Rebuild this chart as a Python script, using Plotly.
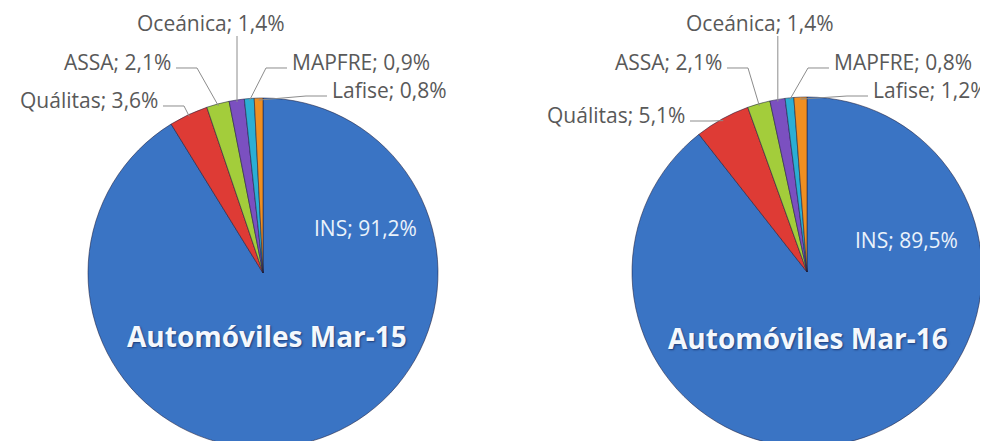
import math
import plotly.graph_objects as go

# ---- data ----
categories = ["INS", "Quálitas", "ASSA", "Oceánica", "MAPFRE", "Lafise"]
values_mar15 = [91.2, 3.6, 2.1, 1.4, 0.9, 0.8]
values_mar16 = [89.5, 5.1, 2.1, 1.4, 0.8, 1.2]
titles = ["Automóviles Mar-15", "Automóviles Mar-16"]

# ---- style / layout (target positions in page pixels) ----
W, H = 988, 441
OFF = 8  # default page body margin
colors = ["#3A74C4", "#DE3B35", "#A3CD3B", "#7B50C0", "#2BAED4", "#EF8F22"]
R = 175
centers = [(263, 273), (807, 272)]
# (side, edge x, center y) per small slice; side: 'L' label left of pie, 'R' right, 'T' top
label_pos = [
    {1: ("L", 160, 100), 2: ("L", 173, 62), 3: ("T", 211, 23), 4: ("R", 290, 62), 5: ("R", 330, 90)},
    {1: ("L", 687, 115), 2: ("L", 724, 62), 3: ("T", 760, 23), 4: ("R", 832, 62), 5: ("R", 871, 90)},
]
ins_pos = [(365, 228), (906, 240)]
title_pos = [(267, 336), (808, 338)]
FONT = "Open Sans"
LBL = 21
LINE = "#8C8C8C"


def px2paper(x, y):
    return (x - OFF) / W, (H - (y - OFF)) / H


def fmt(v):
    return f"{v:.1f}".replace(".", ",") + "%"


fig = go.Figure()
annotations = []
shapes = []
for k, vals in enumerate([values_mar15, values_mar16]):
    cx, cy = centers[k]
    fx, fy = cx - OFF, cy - OFF
    fig.add_trace(go.Pie(
        labels=categories,
        values=vals,
        sort=False,
        direction="clockwise",
        rotation=0,
        textinfo="none",
        hoverinfo="label+percent",
        showlegend=False,
        marker=dict(colors=colors, line=dict(color="rgba(30,30,60,0.55)", width=1)),
        domain=dict(x=[(fx - R) / W, (fx + R) / W],
                    y=[max(0, (H - fy - R) / H), (H - fy + R) / H]),
    ))
    total = sum(vals)
    cum = 0.0
    for i, v in enumerate(vals):
        mid = 2 * math.pi * (cum + v / 2) / total
        cum += v
        if i == 0:
            continue
        sx = cx + (R - 2) * math.sin(mid)
        sy = cy - (R - 2) * math.cos(mid)
        side, ex, ey = label_pos[k][i]
        text = f"{categories[i]}; {fmt(v)}"
        ax, ay = px2paper(ex, ey)
        if side == "T":
            annotations.append(dict(x=ax, y=ay, xref="paper", yref="paper", text=text,
                                    showarrow=False, xanchor="center", yanchor="middle",
                                    font=dict(family=FONT, size=LBL, color="#595959")))
            pts = [(sx, ey + 13), (sx, sy)]
        else:
            annotations.append(dict(x=ax, y=ay, xref="paper", yref="paper", text=text,
                                    showarrow=False,
                                    xanchor="right" if side == "L" else "left",
                                    yanchor="middle",
                                    font=dict(family=FONT, size=LBL, color="#595959")))
            d = 1 if side == "L" else -1
            x0 = ex + 3 * d
            ly = ey + 6
            knee = ex + 24 * d
            pts = [(x0, ly), (knee, ly), (sx, sy)]
        path = ""
        for j, (x, y) in enumerate(pts):
            qx, qy = px2paper(x, y)
            path += ("M" if j == 0 else "L") + f"{qx:.5f},{qy:.5f} "
        shapes.append(dict(type="path", path=path.strip(), xref="paper", yref="paper",
                           line=dict(color=LINE, width=1)))
    # INS label
    ix, iy = px2paper(*ins_pos[k])
    annotations.append(dict(
        x=ix, y=iy, xref="paper", yref="paper", xanchor="center", yanchor="middle",
        text=f"{categories[0]}; {fmt(vals[0])}", showarrow=False,
        font=dict(family=FONT, size=LBL, color="#EAF2FB"),
    ))
    tx, ty = px2paper(*title_pos[k])
    annotations.append(dict(
        x=tx, y=ty, xref="paper", yref="paper", xanchor="center", yanchor="middle",
        text=f"<b>{titles[k]}</b>", showarrow=False,
        font=dict(family=FONT, size=28, color="#F4F8FD",
                  shadow="1px 1px 2px rgba(0,0,40,0.5)"),
    ))

fig.update_layout(
    width=W, height=H,
    margin=dict(l=0, r=0, t=0, b=0),
    paper_bgcolor="white",
    plot_bgcolor="white",
    annotations=annotations,
    shapes=shapes,
)
fig.write_html("out.html")
